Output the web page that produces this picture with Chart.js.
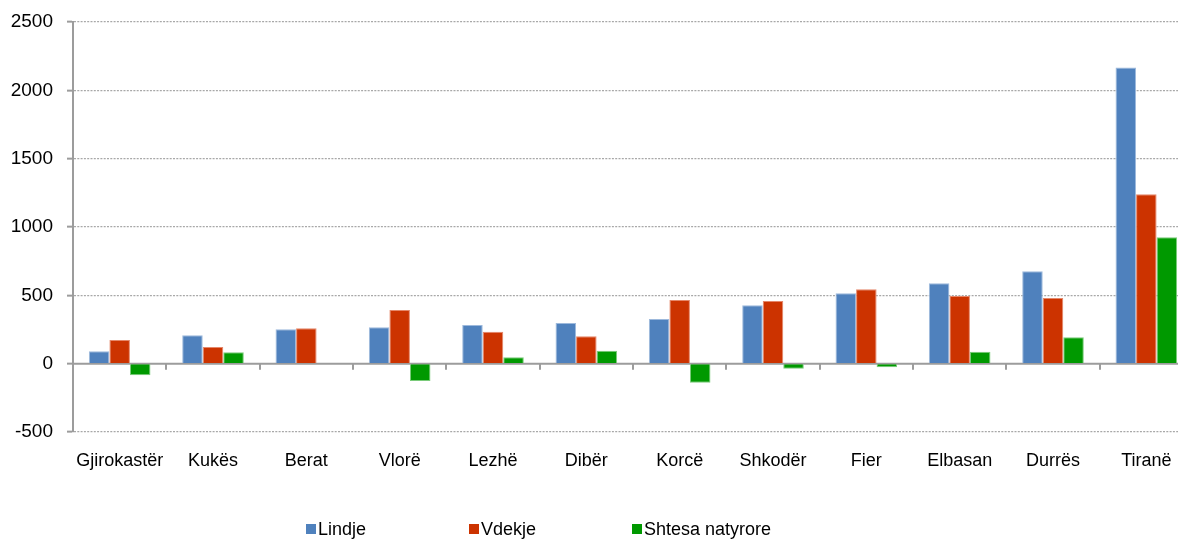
<!DOCTYPE html>
<html>
<head>
<meta charset="utf-8">
<script src="https://cdn.jsdelivr.net/npm/chart.js@4"></script>
<style>
  html, body { margin:0; padding:0; background:#fff; overflow:hidden; width:1178px; height:540px; }
  #wrap { position:relative; width:1194px; height:540px; }
</style>
</head>
<body>
<div id="wrap"><canvas id="c" width="1194" height="540"></canvas></div>
<script>
const categories = ["Gjirokastër","Kukës","Berat","Vlorë","Lezhë","Dibër","Korcë","Shkodër","Fier","Elbasan","Durrës","Tiranë"];
const lindje  = [91, 208, 252, 266, 283, 298, 327, 427, 515, 589, 676, 2167];
const vdekje  = [173, 122, 259, 393, 234, 200, 466, 459, 545, 495, 481, 1240];
const shtesa  = [-85, 83, -4, -127, 47, 95, -139, -37, -27, 88, 193, 925];
const seriesNames = ["Lindje","Vdekje","Shtesa natyrore"];
const yTicks = [-500, 0, 500, 1000, 1500, 2000, 2500];

const FONT = "'Liberation Sans', Arial, sans-serif";
const AXIS = '#9c9c9c';

const zeroLinePlugin = {
  id: 'zeroLine',
  beforeDatasetsDraw(chart) {
    const {ctx, chartArea, scales:{x, y}} = chart;
    const y0 = y.getPixelForValue(0);
    ctx.save();
    ctx.setLineDash([]);
    ctx.strokeStyle = AXIS;
    ctx.lineWidth = 2;
    ctx.beginPath();
    ctx.moveTo(chartArea.left, y0);
    ctx.lineTo(chartArea.right, y0);
    const n = x.ticks.length;
    for (let i = 1; i <= n; i++) {
      const px = i < n ? (x.getPixelForTick(i-1) + x.getPixelForTick(i)) / 2 : chartArea.right;
      ctx.moveTo(Math.round(px), y0);
      ctx.lineTo(Math.round(px), y0 + 6);
    }
    ctx.stroke();
    ctx.restore();
  }
};

const legendPlugin = {
  id: 'customLegend',
  afterDraw(chart) {
    const {ctx} = chart;
    const startX = 306, slot = 163, cy = 529;
    ctx.save();
    ctx.font = "18px " + FONT;
    ctx.textBaseline = 'middle';
    chart.data.datasets.forEach((ds, i) => {
      const x0 = startX + i * slot;
      ctx.fillStyle = ds.backgroundColor;
      ctx.fillRect(x0, cy - 5, 10, 10);
      ctx.fillStyle = '#000';
      ctx.fillText(ds.label, x0 + 12, cy + 1);
    });
    ctx.restore();
  }
};

new Chart(document.getElementById('c'), {
  type: 'bar',
  data: {
    labels: categories,
    datasets: [
      { label: seriesNames[0], data: lindje, backgroundColor: '#4F81BD', borderColor: '#9DB9DC', borderWidth: 1 },
      { label: seriesNames[1], data: vdekje, backgroundColor: '#CC3300', borderColor: '#E5876A', borderWidth: 1 },
      { label: seriesNames[2], data: shtesa, backgroundColor: '#009900', borderColor: '#7ACB7A', borderWidth: 1 }
    ]
  },
  options: {
    responsive: false,
    animation: false,
    devicePixelRatio: 1,
    layout: { padding: { top: 22, right: 1, bottom: 68, left: 0 } },
    datasets: { bar: { categoryPercentage: 0.66, barPercentage: 1.0, borderSkipped: 'start' } },
    plugins: { legend: { display: false }, tooltip: { enabled: false } },
    scales: {
      x: {
        grid: { display: false },
        border: { display: false },
        ticks: { color: '#000', font: { family: FONT, size: 18 }, padding: 10, maxRotation: 0, autoSkip: false },
        afterFit(scale) { scale.height = 40; scale.paddingLeft = 0; scale.paddingRight = 0; }
      },
      y: {
        min: -500, max: 2500,
        afterBuildTicks(scale) { scale.ticks = yTicks.map(v => ({ value: v })); },
        grid: {
          color: (c) => c.tick && c.tick.value === 0 ? 'rgba(0,0,0,0)' : '#a8a8a8',
          lineWidth: 1.3,
          tickColor: AXIS,
          tickBorderDash: [],
          tickLength: 6,
          tickWidth: 2
        },
        border: { display: true, color: AXIS, width: 2, dash: [2, 1.3] },
        ticks: { color: '#000', font: { family: FONT, size: 19 }, padding: 14, callback: (v) => String(v) },
        afterFit(scale) { scale.width = 73; scale.paddingTop = 0; scale.paddingBottom = 0; }
      }
    }
  },
  plugins: [zeroLinePlugin, legendPlugin]
});
</script>
</body>
</html>
